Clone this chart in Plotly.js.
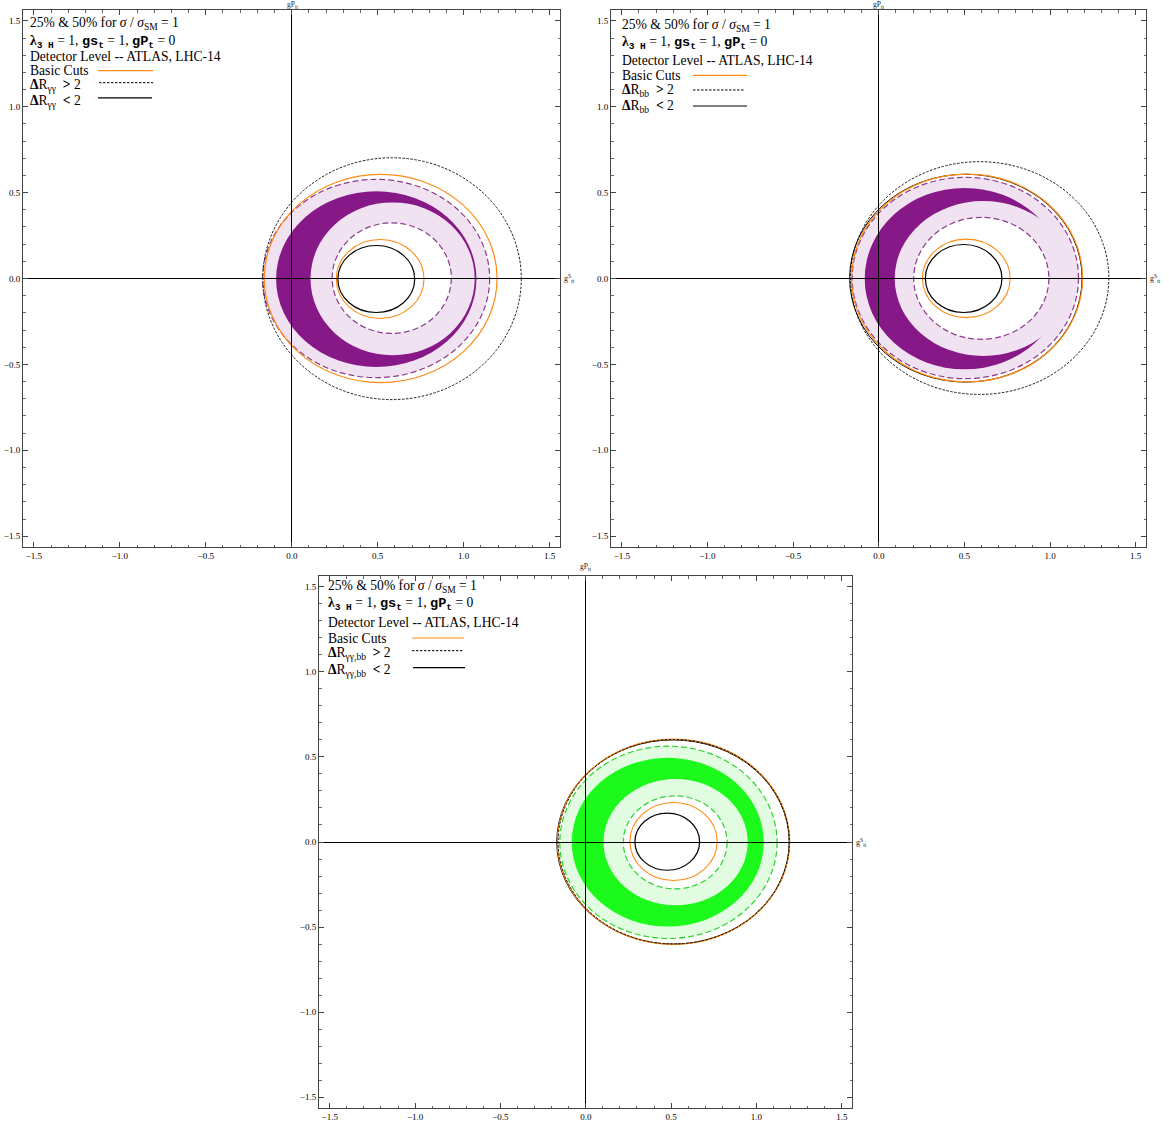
<!DOCTYPE html>
<html>
<head>
<meta charset="utf-8">
<script src="https://cdn.plot.ly/plotly-3.0.1.min.js"></script>
<style>
  html, body { margin: 0; padding: 0; background: #fff; }
  #chart { width: 1169px; height: 1126px; }
</style>
</head>
<body>
<div id="chart"></div>
<script>
// ---------- DATA (contour extents, in coupling units) ----------
// each contour: [xmin, xmax, ymin, ymax]  (gS_tt horizontally, gP_tt vertically)
const contourKeys = ['bandOuter', 'coreOuter', 'coreInner', 'bandInner',
                     'basicOuter', 'basicInner', 'cutGtOuter', 'cutLtInner', 'cutLtOuter'];

// Panel 1 : ΔR_γγ
const p1_xmin = [-0.169, -0.091, 0.109, 0.235, -0.160, 0.259, -0.169, 0.268, null];
const p1_xmax = [ 1.151,  1.074, 1.064, 0.928,  1.194, 0.769,  1.335, 0.715, null];
const p1_ymin = [-0.577, -0.515, -0.447, -0.320, -0.606, -0.233, -0.705, -0.198, null];
const p1_ymax = [ 0.577,  0.508,  0.443,  0.324,  0.606,  0.227,  0.703,  0.192, null];

// Panel 2 : ΔR_bb
const p2_xmin = [-0.155, -0.082, 0.093, 0.204, -0.159, 0.255, -0.165, 0.272, -0.170];
const p2_xmax = [ 1.166,  1.084, 1.127, 0.993,  1.190, 0.767,  1.343, 0.719,  1.187];
const p2_ymin = [-0.583, -0.529, -0.451, -0.354, -0.602, -0.228, -0.675, -0.198, -0.603];
const p2_ymax = [ 0.589,  0.527,  0.451,  0.356,  0.608,  0.229,  0.680,  0.198,  0.607];

// Panel 3 : ΔR_γγ,bb
const p3_xmin = [-0.152, -0.082, 0.104, 0.220, -0.166, 0.259, -0.162, 0.288, -0.170];
const p3_xmax = [ 1.121,  1.043, 0.949, 0.828,  1.195, 0.770,  1.193, 0.667,  1.192];
const p3_ymin = [-0.567, -0.497, -0.372, -0.275, -0.601, -0.226, -0.599, -0.166, -0.600];
const p3_ymax = [ 0.563,  0.495,  0.370,  0.271,  0.604,  0.232,  0.602,  0.170,  0.600];

const cutLabels = ['γγ', 'bb', 'γγ,bb'];
const headerLines = ['25% &amp; 50% for <i>σ</i> / <i>σ</i><sub>SM</sub> = 1',
                     'λ3H', 'Detector Level -- ATLAS, LHC-14'];
const legendNames = ['Basic Cuts', '&gt;', '&lt;'];
const tickVals = [-1.5, -1.0, -0.5, 0.0, 0.5, 1.0, 1.5];

// ---------- STYLE ----------
const W = 1169, H = 1126;
const PX = x => x / W, PY = y => 1 - y / H;
const SERIF = 'Liberation Serif, Times New Roman, serif';
const MONO = 'font-family:Liberation Mono;font-weight:bold';
const ORANGE = '#FF8A14';
const themes = [
  {dark: '#871887', light: '#F1E2F1', dash: '#8A3A8E'},
  {dark: '#871887', light: '#F1E2F1', dash: '#8A3A8E'},
  {dark: '#1CFA1C', light: '#E2FCE2', dash: '#2AD42A'}
];
const panels = [
  {xmin: p1_xmin, xmax: p1_xmax, ymin: p1_ymin, ymax: p1_ymax,
   dom: [23, 560, 10, 547], text: [28, [23.5, 41.5, 56, 71, 85, 101.5]],
   top: [292, 4.5], right: [563, 279],
   samp: [[98, 153, 70.7], [99, 153, 82.7], [98, 152, 97.8]]},
  {xmin: p2_xmin, xmax: p2_xmax, ymin: p2_ymin, ymax: p2_ymax,
   dom: [611, 1146, 10, 547], text: [620, [25, 42.5, 60, 76, 90.5, 106.5]],
   top: [878, 4.5], right: [1149, 279],
   samp: [[693, 747, 75.3], [693, 745, 90], [693, 747, 106]]},
  {xmin: p3_xmin, xmax: p3_xmax, ymin: p3_ymin, ymax: p3_ymax,
   dom: [319, 852, 576, 1108], text: [326, [586, 604, 622.3, 638, 653, 670.5]],
   top: [585, 567], right: [855, 842],
   samp: [[412, 464, 638], [412, 463, 650.7], [413, 465, 667.7]]}
];

const layout = {
  width: W, height: H,
  margin: {l: 0, r: 0, t: 0, b: 0},
  paper_bgcolor: '#fff', plot_bgcolor: '#fff',
  showlegend: false,
  shapes: [], annotations: []
};

function axis(dom, isX, anchor) {
  return {
    domain: dom, anchor: anchor,
    range: isX ? [-1.563, 1.56] : [-1.563, 1.563],
    showgrid: false,
    zeroline: true, zerolinecolor: '#000', zerolinewidth: 1,
    showline: true, mirror: 'allticks', linecolor: '#444', linewidth: 1,
    ticks: 'inside', ticklen: 5, tickwidth: 1, tickcolor: '#444',
    tickmode: 'array', tickvals: tickVals, tickformat: '.1f',
    tickfont: {family: SERIF, size: 9, color: '#000'},
    minor: {ticks: 'inside', dtick: 0.1, tick0: 0, ticklen: 2.5, tickcolor: '#666', showgrid: false},
    fixedrange: true
  };
}

panels.forEach((p, i) => {
  const n = i === 0 ? '' : String(i + 1);
  const d = p.dom;
  layout['xaxis' + n] = axis([PX(d[0]), PX(d[1])], true, 'y' + n);
  layout['yaxis' + n] = axis([PY(d[3]), PY(d[2])], false, 'x' + n);
  const th = themes[i];
  const get = key => {
    const k = contourKeys.indexOf(key);
    return [p.xmin[k], p.xmax[k], p.ymin[k], p.ymax[k]];
  };
  const ell = (key, fill, line) => {
    const e = get(key);
    if (e[0] === null) return;
    layout.shapes.push({
      type: 'circle', xref: 'x' + n, yref: 'y' + n, layer: 'below',
      x0: e[0], x1: e[1], y0: e[2], y1: e[3],
      fillcolor: fill || 'rgba(0,0,0,0)',
      line: line || {width: 0}
    });
  };
  // filled regions
  ell('bandOuter', th.light, {width: 0});
  ell('coreOuter', th.dark, {width: 0});
  ell('coreInner', th.light, {width: 0});
  ell('bandInner', '#fff', {width: 0});
  // contour lines
  ell('bandOuter', null, {color: th.dash, width: 1.2, dash: '6px,3px'});
  ell('bandInner', null, {color: th.dash, width: 1.2, dash: '6px,3px'});
  ell('cutLtOuter', null, {color: '#000', width: 1});
  ell('basicOuter', null, {color: ORANGE, width: 1.2});
  ell('basicInner', null, {color: ORANGE, width: 1.1});
  ell('cutGtOuter', null, {color: '#000', width: 0.9, dash: '2.5px,1.5px'});
  ell('cutLtInner', null, {color: '#000', width: 1.2});

  // header / legend texts
  const lab = cutLabels[i];
  const lines = [
    headerLines[0],
    '<b>λ</b><sub><span style="' + MONO + '">3 H</span></sub> = 1, ' +
      '<span style="' + MONO + '">gs</span><sub><span style="' + MONO + '">t</span></sub> = 1, ' +
      '<span style="' + MONO + '">gP</span><sub><span style="' + MONO + '">t</span></sub> = 0',
    headerLines[2],
    legendNames[0],
    '<b>Δ</b>R<sub>' + lab + '</sub>  <b>' + legendNames[1] + '</b> 2',
    '<b>Δ</b>R<sub>' + lab + '</sub>  <b>' + legendNames[2] + '</b> 2'
  ];
  lines.forEach((t, j) => {
    layout.annotations.push({
      xref: 'paper', yref: 'paper', x: PX(p.text[0]), y: PY(p.text[1][j]),
      xanchor: 'left', yanchor: 'middle', showarrow: false, text: t,
      font: {family: SERIF, size: 13.6, color: '#000'}
    });
  });
  // legend samples
  const sStyles = [{color: ORANGE, width: 1.2}, {color: '#000', width: 1, dash: '2.5px,1.5px'}, {color: '#000', width: 1.2}];
  p.samp.forEach((s, j) => {
    layout.shapes.push({type: 'line', xref: 'paper', yref: 'paper',
      x0: PX(s[0]), x1: PX(s[1]), y0: PY(s[2]), y1: PY(s[2]), line: sStyles[j]});
  });
  // axis labels
  layout.annotations.push({
    xref: 'paper', yref: 'paper', x: PX(p.top[0]), y: PY(p.top[1]),
    xanchor: 'center', yanchor: 'middle', showarrow: false, borderpad: 0,
    text: 'gP<sub>tt</sub>', font: {family: SERIF, size: 7.5, color: '#222'}
  });
  layout.annotations.push({
    xref: 'paper', yref: 'paper', x: PX(p.right[0]), y: PY(p.right[1]),
    xanchor: 'left', yanchor: 'middle', showarrow: false, borderpad: 0,
    text: 'g<sup>S</sup><sub>tt</sub>', font: {family: SERIF, size: 8, color: '#222'}
  });
});

Plotly.newPlot('chart', [], layout, {staticPlot: true, displayModeBar: false});
</script>
</body>
</html>
